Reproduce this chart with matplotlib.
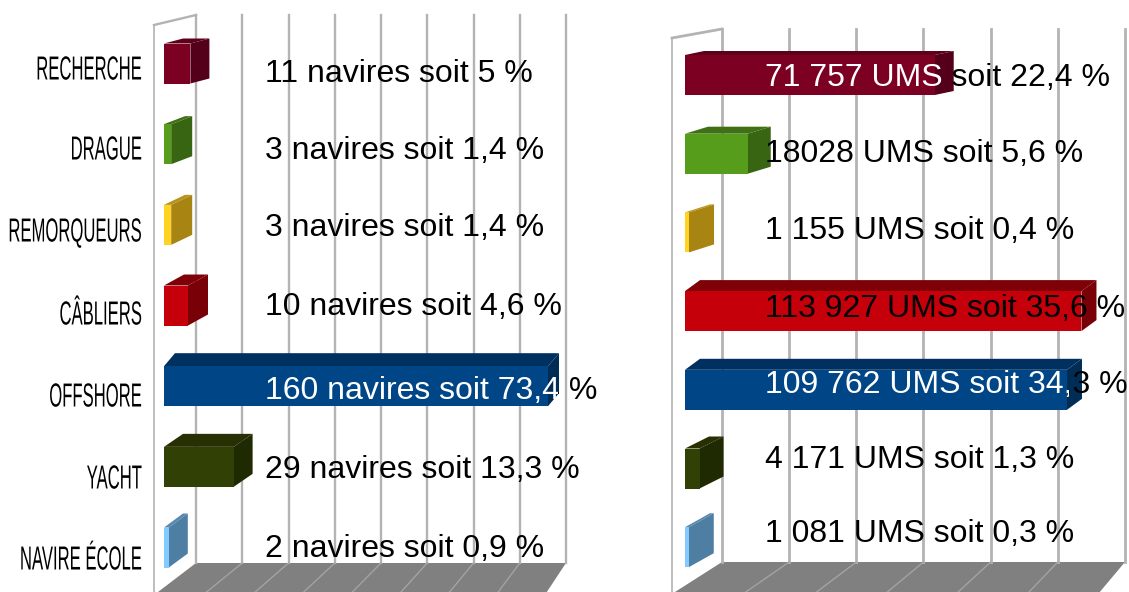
import matplotlib
matplotlib.use("Agg")
import matplotlib.pyplot as plt
import matplotlib.patheffects as pe
from matplotlib.transforms import Affine2D, Bbox

categories = ["RECHERCHE", "DRAGUE", "REMORQUEURS", "CÂBLIERS", "OFFSHORE", "YACHT", "NAVIRE ÉCOLE"]

navires = [11, 3, 3, 10, 160, 29, 2]
navires_labels = ["11 navires soit 5 %", "3 navires soit 1,4 %", "3 navires soit 1,4 %", "10 navires soit 4,6 %",
                  "160 navires soit 73,4 %", "29 navires soit 13,3 %", "2 navires soit 0,9 %"]
navires_ticks = [0, 20, 40, 60, 80, 100, 120, 140, 160]

ums = [71757, 18028, 1155, 113927, 109762, 4171, 1081]
ums_labels = ["71 757 UMS soit 22,4 %", "18028 UMS soit 5,6 %", "1 155 UMS soit 0,4 %", "113 927 UMS soit 35,6 %",
              "109 762 UMS soit 34,3 %", "4 171 UMS soit 1,3 %", "1 081 UMS soit 0,3 %"]
ums_ticks = [0, 20000, 40000, 60000, 80000, 100000, 120000]

front_colors = ["#7b0022", "#579d1c", "#ffd320", "#c5000b", "#004586", "#314004", "#83caff"]
side_colors = ["#54001a", "#386512", "#a88412", "#7a0007", "#002d56", "#202a02", "#4f7ea3"]
top_colors = ["#5e0019", "#3f7014", "#b8921a", "#7f0007", "#003060", "#263002", "#5888ad"]

W, H = 1129, 592
GRID = "#b3b3b3"
FLOOR = "#808080"
FLOOR_LINE = "#a3a3a3"


class SqueezeX(pe.AbstractPathEffect):
    # the labels in the picture are squeezed sideways
    def __init__(self, sx, x_px):
        super().__init__()
        self.sx = sx
        self.x_px = x_px

    def draw_path(self, renderer, gc, tpath, affine, rgbFace=None):
        squeeze = Affine2D().translate(-self.x_px, 0).scale(self.sx, 1).translate(self.x_px, 0)
        renderer.draw_path(gc, tpath, affine + squeeze, rgbFace)


def panel(px_left, px_right, x0, scale, y0, spacing, values, ticks, tick_scale, back, wall, floor, bar_h, dx, dy,
          labels, label_x, label_y, label_size, split):
    ax = fig.add_axes([px_left / W, 0, (px_right - px_left) / W, 1])
    ax.set_xlim((px_left - x0) / scale, (px_right - x0) / scale)
    ax.set_ylim((H - y0) / spacing, -y0 / spacing)
    ax.axis("off")

    def X(px):
        return (px - x0) / scale

    def Y(py):
        return (py - y0) / spacing

    # floor and walls
    back_y, top_y = floor["back_y"], wall["top"]
    xs_back = [back + t * tick_scale for t in ticks]
    xs_front = [floor["front"] + t * floor["front_scale"] for t in ticks]
    ax.fill([X(xs_back[0]), X(xs_back[-1]), X(xs_front[-1]), X(xs_front[0])],
            [Y(back_y), Y(back_y), Y(H), Y(H)], color=FLOOR, lw=0, zorder=1)
    for xb, xf in zip(xs_back[1:-1], xs_front[1:-1]):
        ax.plot([X(xb), X(xf)], [Y(back_y), Y(H)], color=FLOOR_LINE, lw=1, zorder=1.5)
    for xb in xs_back:
        ax.plot([X(xb), X(xb)], [Y(top_y), Y(back_y)], color=GRID, lw=wall["lw"], zorder=1)
    ax.plot([X(wall["x"]), X(wall["x"])], [Y(wall["left_top"]), Y(H)], color=GRID, lw=1.2, zorder=1)
    ax.plot([X(wall["x"]), X(xs_back[0])], [Y(wall["left_top"]), Y(top_y)], color=GRID, lw=wall["lw"], zorder=1)

    rows = list(range(len(values)))
    ax.barh(rows, values, height=bar_h / spacing, color=front_colors, zorder=3)
    half = bar_h / spacing / 2
    for r, v in zip(rows, values):
        ox, oy = dx[r] / scale, dy[r] / spacing
        ax.fill([v, v + ox, v + ox, v], [r - half, r - half + oy, r + half + oy, r + half],
                color=side_colors[r], lw=0, zorder=2.5)
        ax.fill([0, ox, v + ox, v], [r - half, r - half + oy, r - half + oy, r - half],
                color=top_colors[r], lw=0, zorder=2.5)

    # two tone labels, white where they sit on the dark bars
    for r, label in enumerate(labels):
        kw = dict(fontsize=label_size, family="Liberation Sans", va="center", ha="left", zorder=5)
        tb = ax.text(X(label_x), Y(label_y[r]), label, color="black", **kw)
        if split[r]:
            tb.set_clip_box(Bbox([[split[r], 0], [W, H]]))
            tb.set_clip_on(True)
            tw = ax.text(X(label_x), Y(label_y[r]), label, color="white", **kw)
            tw.set_clip_box(Bbox([[0, 0], [split[r], H]]))
            tw.set_clip_on(True)
    return ax, X, Y


fig = plt.figure(figsize=(W / 100, H / 100), dpi=100, facecolor="white")

ax_left, X, Y = panel(0, 640, 164, 2.4, 63.5, 80.67, navires, navires_ticks, 2.3125, 196,
                      {"x": 154, "left_top": 25, "top": 15, "lw": 1.7},
                      {"back_y": 563, "front": 158, "front_scale": 2.43}, 40,
                      [19, 21, 21, 20, 11, 19, 19], [-5, -8, -10, -11, -13, -13, -14],
                      navires_labels, 265, [74, 151, 228, 307, 391, 470, 549], 23.0,
                      [0, 0, 0, 0, 558, 0, 0])

cat_y = [71, 151, 233, 316, 398, 480, 561]
renderer = fig.canvas.get_renderer()
for name, py in zip(categories, cat_y):
    t = ax_left.text(X(35), Y(py), name, fontsize=24, family="Liberation Sans", color="black",
                     ha="left", va="center", zorder=5)
    # keep the text box on the canvas and line the squeezed glyphs up on the right
    left_px = 142 - t.get_window_extent(renderer).width * 0.5
    t.set_x(X(left_px))
    t.set_path_effects([SqueezeX(0.5, left_px)])

panel(640, 1129, 685, 0.00348, 75, 78.7, ums, ums_ticks, 0.003358, 722,
      {"x": 672, "left_top": 38, "top": 29, "lw": 2.0},
      {"back_y": 562, "front": 675, "front_scale": 0.00354}, 40,
      [19, 23, 25, 15, 15, 24, 25], [-4, -7, -8, -11, -11, -12, -14],
      ums_labels, 765, [78, 154, 231, 309, 385, 460, 534], 23.0,
      [948, 0, 0, 0, 1069, 0, 0])

fig.savefig("out.png", dpi=100)
